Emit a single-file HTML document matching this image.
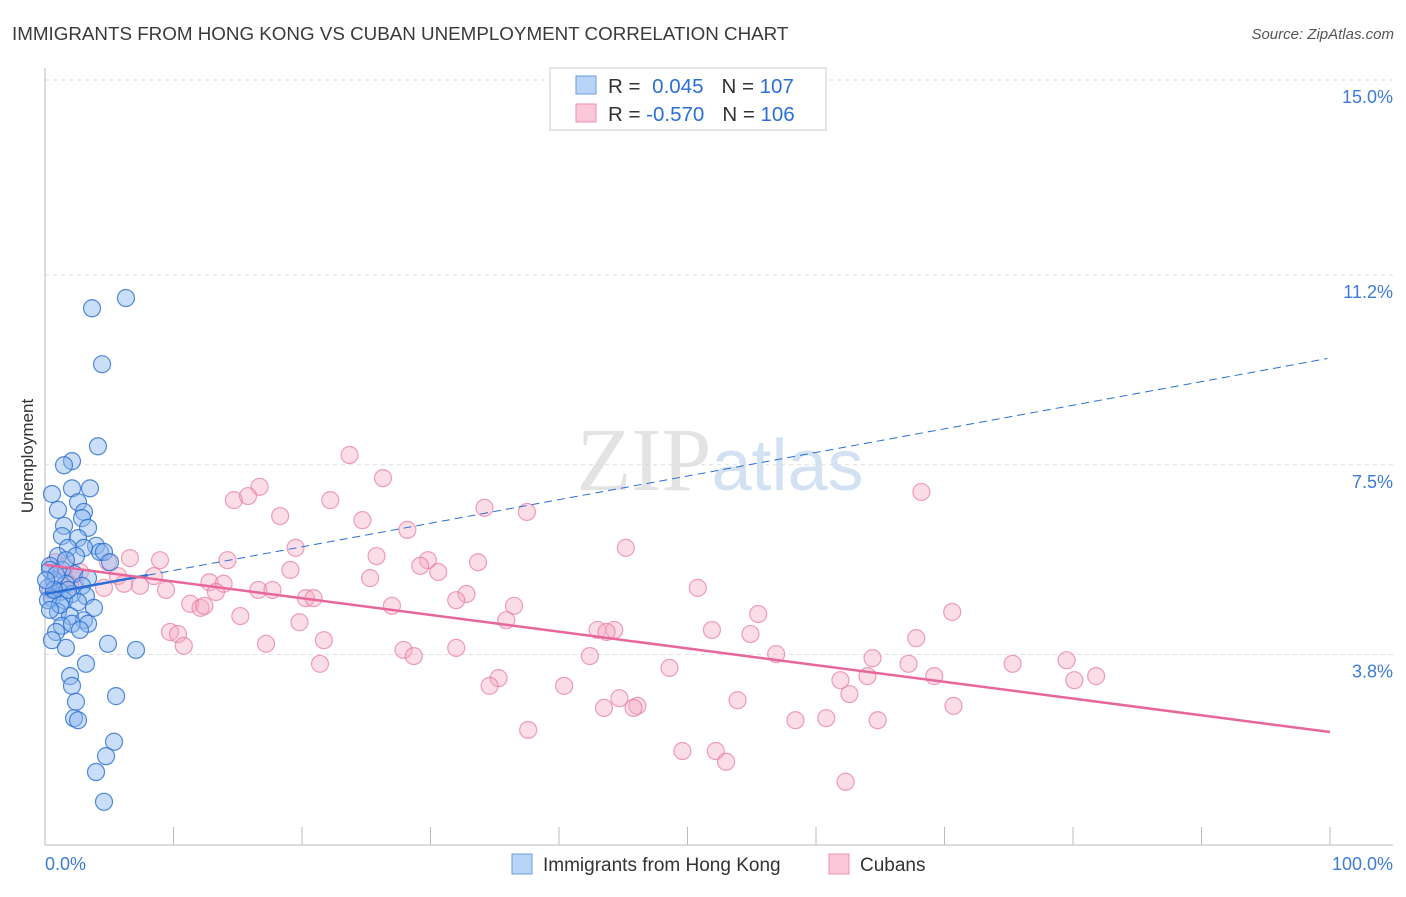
<!DOCTYPE html>
<html><head><meta charset="utf-8"><style>
body{margin:0;background:#fff;font-family:"Liberation Sans",sans-serif}
</style></head><body>
<svg id="chart" width="1406" height="892" xmlns="http://www.w3.org/2000/svg" font-family="Liberation Sans, sans-serif">
<text x="12" y="40" font-size="18.8" fill="#3a3a3a">IMMIGRANTS FROM HONG KONG VS CUBAN UNEMPLOYMENT CORRELATION CHART</text>
<text x="1394" y="39" font-size="15" fill="#555" text-anchor="end" font-style="italic">Source: ZipAtlas.com</text>
<text x="720" y="490" font-size="90" text-anchor="middle" font-family="Liberation Serif, serif" fill="#ddd" opacity="0.8">ZIP<tspan fill="#c8dcf0" font-family="Liberation Sans, sans-serif" font-size="72">atlas</tspan></text>
<text transform="translate(33,456) rotate(-90)" font-size="17" fill="#333" text-anchor="middle">Unemployment</text>
<g id="grid"></g><g id="pts"></g><g id="trend"></g>
<g>
<rect x="550" y="68" width="276" height="62" fill="#fff" stroke="#ccc"/>
<rect x="576" y="76" width="20" height="18" fill="#b8d4f6" stroke="#6a9ee0"/>
<rect x="576" y="104" width="20" height="18" fill="#fac8d8" stroke="#ec8fae"/>
<text x="608" y="93" font-size="20.5" fill="#333">R = <tspan fill="#2a6fd6" dx="6">0.045</tspan><tspan dx="18">N = </tspan><tspan fill="#2a6fd6">107</tspan></text>
<text x="608" y="121" font-size="20.5" fill="#333">R = <tspan fill="#2a6fd6">-0.570</tspan><tspan dx="18">N = </tspan><tspan fill="#2a6fd6">106</tspan></text>
</g>
<g>
<rect x="512" y="854" width="20" height="20" fill="#b8d4f6" stroke="#6a9ee0"/>
<text x="543" y="871" font-size="19" fill="#333">Immigrants from Hong Kong</text>
<rect x="829" y="854" width="20" height="20" fill="#fac8d8" stroke="#ec8fae"/>
<text x="860" y="871" font-size="19" fill="#333">Cubans</text>
</g>
</svg>
<script>
const yTicks=[15.0,11.2,7.5,3.8];
const yTickLabels=["15.0%","11.2%","7.5%","3.8%"];
const xTickLabels=["0.0%","100.0%"];
const blueX=[6.3,3.66,4.44,4.12,2.1,1.48,3.5,0.54,2.1,2.57,1.01,3.03,2.88,1.48,3.35,1.32,2.57,3.97,1.79,3.03,4.28,4.59,1.01,2.41,5.06,0.39,1.32,2.26,3.35,0.7,1.63,2.88,0.23,1.17,2.1,3.19,0.54,1.48,2.57,3.81,1.01,1.95,3.03,1.32,2.1,3.35,0.86,2.72,0.54,1.63,4.9,7.08,3.19,1.95,2.1,5.53,2.41,2.26,2.57,5.37,4.75,3.97,4.59,0.39,0.86,0.23,1.17,1.63,1.79,0.7,0.08,0.39];
const blueY=[10.75,10.55,9.46,7.86,7.57,7.49,7.04,6.93,7.04,6.77,6.62,6.58,6.46,6.31,6.27,6.11,6.07,5.92,5.88,5.88,5.8,5.8,5.72,5.72,5.6,5.53,5.45,5.37,5.29,5.25,5.18,5.14,5.1,5.02,4.98,4.94,4.9,4.86,4.82,4.71,4.63,4.55,4.47,4.36,4.4,4.4,4.24,4.28,4.08,3.93,4.01,3.89,3.62,3.38,3.19,2.99,2.88,2.56,2.52,2.1,1.82,1.51,0.93,5.45,5.35,4.86,4.77,5.64,5.06,5.06,5.25,4.67];
const pinkX=[23.7,26.3,16.7,14.7,15.8,22.2,68.2,34.2,37.5,18.3,24.7,28.2,45.2,19.5,25.8,29.8,33.7,29.2,14.2,8.95,6.61,4.9,19.1,30.6,25.3,5.68,8.48,12.8,13.9,7.39,4.59,6.15,9.42,16.6,17.7,13.3,50.8,20.3,20.9,32.8,32.0,27.0,36.5,11.3,12.1,12.4,15.2,55.5,70.6,19.8,35.9,9.73,10.35,10.8,21.7,43.0,44.3,43.7,51.9,54.9,67.8,17.2,27.9,28.7,32.0,42.4,56.9,64.4,67.2,21.4,48.6,75.3,79.5,69.2,81.8,80.1,61.9,64.0,35.3,34.6,40.4,62.6,44.7,46.1,45.8,43.5,53.9,70.7,58.4,60.8,64.8,37.6,49.6,52.2,53.0,62.3,0.78,1.56,2.33,1.32,2.72,0.39,1.95];
const pinkY=[7.69,7.24,7.07,6.81,6.89,6.81,6.97,6.66,6.58,6.5,6.42,6.23,5.88,5.88,5.72,5.64,5.6,5.53,5.64,5.64,5.68,5.6,5.45,5.41,5.29,5.33,5.33,5.21,5.18,5.14,5.1,5.18,5.06,5.06,5.06,5.02,5.1,4.9,4.9,4.98,4.86,4.75,4.75,4.79,4.71,4.75,4.55,4.59,4.63,4.43,4.47,4.24,4.2,3.97,4.08,4.28,4.28,4.24,4.28,4.2,4.12,4.01,3.89,3.77,3.93,3.77,3.81,3.73,3.62,3.62,3.54,3.62,3.69,3.38,3.38,3.3,3.3,3.38,3.34,3.19,3.19,3.03,2.95,2.8,2.76,2.76,2.91,2.8,2.52,2.56,2.52,2.33,1.92,1.92,1.71,1.32,5.6,5.53,5.25,5.35,5.41,5.06,5.16];
const blueTrend=[4.98,9.58];
const pinkTrend=[5.55,2.29];
const NS="http://www.w3.org/2000/svg";
const X0=45,X1=1330,YTOP=80,PXPER=51.3;
const sx=v=>X0+v/100*(X1-X0);
const sy=v=>YTOP+(15-v)*PXPER;
function mk(tag,attrs,parent){const e=document.createElementNS(NS,tag);for(const k in attrs)e.setAttribute(k,attrs[k]);parent.appendChild(e);return e;}
const grid=document.getElementById('grid');
yTicks.forEach((t,i)=>{
 const l=mk('line',{x1:X0,x2:1393,y1:sy(t),y2:sy(t),stroke:'#ddd','stroke-dasharray':'4,4'},grid);
 
 
 const tx=mk('text',{x:1393,y:sy(t)+23,'font-size':18,fill:'#3d7bd6','text-anchor':'end'},grid);
 tx.textContent=yTickLabels[i];
 
 
});
const ax=mk('line',{x1:X0,x2:X0,y1:68,y2:845,stroke:'#bbb'},grid);


const bx=mk('line',{x1:X0,x2:1393,y1:845,y2:845,stroke:'#bbb'},grid);


for(let i=1;i<=10;i++){
 const t=mk('line',{x1:sx(i*10),x2:sx(i*10),y1:827,y2:845,stroke:'#bbb'},grid);
 
 
}
[[0,'start',X0],[100,'end',1393]].forEach((d,i)=>{
 const t=mk('text',{x:d[2],y:870,'font-size':18,fill:'#3d7bd6','text-anchor':d[1]},grid);
 t.textContent=xTickLabels[i];
 
 
});
const pts=document.getElementById('pts');
pinkX.forEach((v,i)=>{
 const c=mk('circle',{cx:sx(v),cy:sy(pinkY[i]),r:8.5,fill:'rgba(246,170,196,0.4)',stroke:'rgba(232,120,160,0.7)','stroke-width':1.2},pts);
 
 
});
blueX.forEach((v,i)=>{
 const c=mk('circle',{cx:sx(v),cy:sy(blueY[i]),r:8.5,fill:'rgba(140,182,238,0.45)',stroke:'rgba(40,110,210,0.8)','stroke-width':1.2},pts);
 
 
});
const tr=document.getElementById('trend');
const bf=v=>blueTrend[0]+(blueTrend[1]-blueTrend[0])*v/100;
const b1=mk('line',{x1:sx(0),y1:sy(bf(0)),x2:sx(8),y2:sy(bf(8)),stroke:'#2a6fd6','stroke-width':2.5},tr);


const b2=mk('line',{x1:sx(8),y1:sy(bf(8)),x2:sx(99.8),y2:sy(bf(99.8)),stroke:'#2a6fd6','stroke-width':1,'stroke-dasharray':'8,5'},tr);


const p1=mk('line',{x1:sx(0),y1:sy(pinkTrend[0]),x2:sx(100),y2:sy(pinkTrend[1]),stroke:'#e8679a','stroke-width':2.5},tr);


</script>
</body></html>
